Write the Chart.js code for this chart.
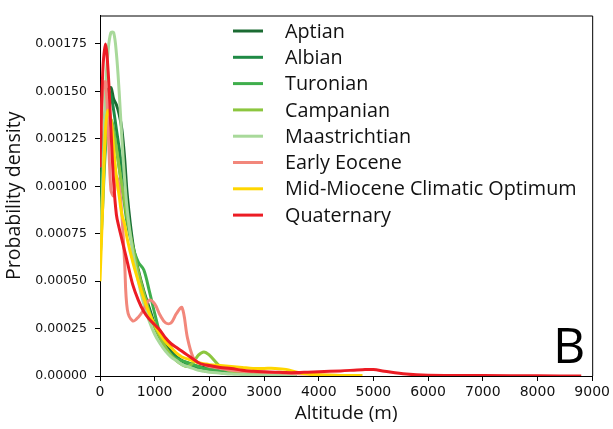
<!DOCTYPE html>
<html>
<head>
<meta charset="utf-8">
<script src="https://cdn.jsdelivr.net/npm/chart.js@4/dist/chart.umd.min.js"></script>
<style>
html,body{margin:0;padding:0;background:#fff;}
#wrap{width:613px;height:429px;position:relative;}
</style>
</head>
<body>
<div id="wrap"><canvas id="c" width="613" height="429"></canvas></div>
<script>
// Altitude grid (m)
const altitude = [0,50,100,150,200,250,300,350,400,450,500,600,700,800,900,1000,1100,1200,1300,1400,1500,1600,1700,1800,1900,2000,2200,2400,2600,2800,3000,3200,3400,3600,3800,4000,4400,4800,5000,5200,5600,6000,7000,8000,8800];

const seriesNames = ["Aptian","Albian","Turonian","Campanian","Maastrichtian","Early Eocene","Mid-Miocene Climatic Optimum","Quaternary"];
const seriesColors = ["#1b6b32","#1f8a45","#3fae4c","#8cc63f","#a8d99a","#f2877b","#ffd600","#ec1c24"];

const aptian = [0.0008,0.0011,0.0014,0.00151,0.00152,0.00146,0.00143,0.00138,0.0013,0.00115,0.00095,0.0007,0.00056,0.00045,0.00036,0.00027,0.0002,0.00016,0.00013,0.0001,0.00008,0.00007,0.00006,0.00005,0.000045,0.00004,0.00003,0.000022,0.000016,0.00001,0.000007,0.000005,0.000003,0.000002,null,null,null,null,null,null,null,null,null,null,null];
const albian = [0.0009,0.0012,0.0014,0.0015,0.00148,0.0014,0.0013,0.0012,0.0011,0.001,0.00088,0.00068,0.00054,0.00043,0.00034,0.00026,0.0002,0.00015,0.00012,0.0001,0.00008,0.00006,0.00005,0.000045,0.00004,0.000035,0.000025,0.00002,0.000015,0.00001,0.000006,0.000004,0.000002,null,null,null,null,null,null,null,null,null,null,null,null];
const turonian = [0.0006,0.0009,0.0012,0.00133,0.00135,0.0013,0.0012,0.0011,0.001,0.0009,0.0008,0.00068,0.0006,0.00056,0.00045,0.00033,0.00022,0.00015,0.00011,0.00009,0.00008,0.00007,0.00006,0.00005,0.00004,0.000035,0.000025,0.000018,0.000012,0.000008,0.000005,0.000003,null,null,null,null,null,null,null,null,null,null,null,null,null];
const campanian = [0.0007,0.001,0.00125,0.00136,0.00135,0.00128,0.0012,0.0011,0.001,0.00092,0.00083,0.00068,0.00055,0.00044,0.00034,0.00026,0.0002,0.00015,0.00011,0.00008,0.00006,0.00005,0.00007,0.00011,0.000127,0.00011,0.00005,0.000025,0.000015,0.00001,0.000007,0.000005,0.000003,null,null,null,null,null,null,null,null,null,null,null,null];
const maastrichtian = [0.0006,0.001,0.0015,0.00172,0.00181,0.00181,0.0017,0.0015,0.00125,0.00104,0.00087,0.00065,0.0005,0.00038,0.00029,0.00022,0.00017,0.00013,0.0001,0.00008,0.00006,0.00005,0.00004,0.00003,0.000025,0.00002,0.000015,0.00001,0.000008,0.000006,0.000005,0.000004,0.000003,0.000002,null,null,null,null,null,null,null,null,null,null,null];
const earlyEocene = [0.0011,0.0015,0.00155,0.0013,0.00098,0.00095,0.00105,0.001,0.00085,0.0006,0.00035,0.00029,0.00031,0.00035,0.0004,0.00038,0.00032,0.00028,0.00028,0.00033,0.00036,0.0002,0.0001,0.00007,0.00006,0.00005,0.00004,0.00003,0.000025,0.000022,0.00002,0.000018,0.000015,0.000012,0.00001,0.000006,0.000003,null,null,null,null,null,null,null,null];
const mmco = [0.0005,0.0009,0.0013,0.0014,0.00135,0.0012,0.00105,0.00095,0.00085,0.0008,0.00072,0.0006,0.0005,0.00041,0.00033,0.00027,0.00022,0.00018,0.00015,0.00012,0.0001,0.00009,0.00008,0.00007,0.000065,0.00006,0.000055,0.00005,0.000045,0.00004,0.00004,0.00004,0.000035,0.00002,0.00001,0.000006,0.000003,0.000002,null,null,null,null,null,null,null];
const quaternary = [0.0011,0.0016,0.00175,0.0016,0.0013,0.00102,0.00085,0.00078,0.00072,0.00066,0.0006,0.00048,0.0004,0.00034,0.0003,0.00027,0.00024,0.0002,0.00017,0.00015,0.00013,0.00011,0.00009,0.00007,0.00006,0.000055,0.000045,0.00004,0.00003,0.000025,0.000022,0.00002,0.000018,0.000018,0.00002,0.000022,0.000027,0.000033,0.000034,0.000025,0.00001,0.000004,0.000002,0.000001,0];

const allSeries = [aptian, albian, turonian, campanian, maastrichtian, earlyEocene, mmco, quaternary];

const yTicks = [0,0.00025,0.0005,0.00075,0.001,0.00125,0.0015,0.00175];
const xTicks = [0,1000,2000,3000,4000,5000,6000,7000,8000,9000];

const n = allSeries.length;
const datasets = allSeries.map((s, i) => ({
  label: seriesNames[i],
  data: altitude.map((a, j) => ({x: a, y: s[j]})),
  borderColor: seriesColors[i],
  backgroundColor: seriesColors[i],
  borderWidth: 3,
  pointRadius: 0,
  tension: 0.35,
  fill: false,
  order: n - i
}));

const frameAndLegend = {
  id: 'frameAndLegend',
  afterDraw(chart) {
    const ctx = chart.ctx;
    const a = chart.chartArea;
    ctx.save();
    ctx.strokeStyle = '#000';
    ctx.lineWidth = 1;
    ctx.beginPath();
    ctx.moveTo(a.left, a.top + 0.5);
    ctx.lineTo(a.right + 0.5, a.top + 0.5);
    ctx.lineTo(a.right + 0.5, a.bottom);
    ctx.stroke();
    // legend
    const x0 = 233, x1 = 263, tx = 285, y0 = 31, dy = 26.3;
    ctx.font = '19.8px "Open Sans"';
    ctx.textBaseline = 'middle';
    ctx.textAlign = 'left';
    seriesNames.forEach((name, i) => {
      const y = y0 + i * dy;
      ctx.strokeStyle = seriesColors[i];
      ctx.lineWidth = 3;
      ctx.beginPath();
      ctx.moveTo(x0, y);
      ctx.lineTo(x1, y);
      ctx.stroke();
      ctx.fillStyle = '#111';
      ctx.fillText(name, tx, y + 1);
    });
    // panel letter
    ctx.font = '50px "Open Sans"';
    ctx.textBaseline = 'alphabetic';
    ctx.fillStyle = '#000';
    ctx.fillText('B', 553, 363);
    ctx.restore();
  }
};

new Chart(document.getElementById('c'), {
  type: 'line',
  data: { datasets },
  options: {
    responsive: false,
    animation: false,
    devicePixelRatio: 1,
    layout: { padding: { top: 9, right: 19, left: 0, bottom: 0 } },
    plugins: { legend: { display: false }, tooltip: { enabled: false } },
    scales: {
      x: {
        type: 'linear',
        min: 0, max: 9000,
        afterBuildTicks: ax => { ax.ticks = xTicks.map(v => ({value: v})); },
        afterFit: ax => { ax.height = 53; },
        grid: { drawOnChartArea: false, drawTicks: true, tickLength: 5, color: '#000' },
        border: { display: true, color: '#000', width: 1 },
        ticks: { color: '#111', font: { family: 'DejaVu Sans', size: 14 }, padding: 3, maxRotation: 0, autoSkip: false, callback: v => String(v) },
        title: { display: true, text: 'Altitude (m)', color: '#111', font: { family: 'Open Sans', size: 19 }, padding: { top: 0, bottom: 4 } }
      },
      y: {
        type: 'linear',
        min: 0, max: 0.0019,
        afterBuildTicks: ax => { ax.ticks = yTicks.map(v => ({value: v})); },
        afterFit: ax => { ax.width = 100; },
        grid: { drawOnChartArea: false, drawTicks: true, tickLength: 5, color: '#000' },
        border: { display: true, color: '#000', width: 1 },
        ticks: { color: '#111', font: { family: 'DejaVu Sans', size: 12.5 }, padding: 8, autoSkip: false, callback: v => Number(v).toFixed(5) },
        title: { display: true, text: 'Probability density', color: '#111', font: { family: 'Open Sans', size: 19.5 }, padding: { top: 3, bottom: 0 } }
      }
    }
  },
  plugins: [frameAndLegend]
});
</script>
</body>
</html>
